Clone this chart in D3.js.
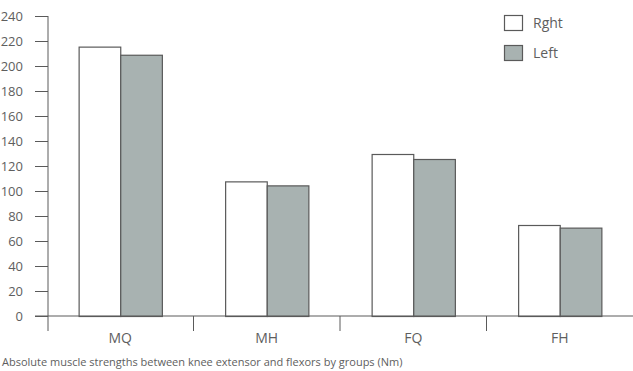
<!DOCTYPE html>
<html>
<head>
<meta charset="utf-8">
<script src="https://cdn.jsdelivr.net/npm/d3@7"></script>
<style>
  body { margin: 0; background: #fff; }
  svg text { font-family: "Open Sans", "Noto Sans", sans-serif; font-weight: 400; }
</style>
</head>
<body>
<div id="chart"></div>
<script>
////////////////////////////////////////////////////////////
//////////////////////// Data //////////////////////////////
////////////////////////////////////////////////////////////

var groups = ["MQ", "MH", "FQ", "FH"];
var seriesNames = ["Rght", "Left"];
var rightValues = [215.5, 107.7, 129.6, 72.8];
var leftValues = [209, 104.5, 125.6, 70.7];
var yTicks = [0, 20, 40, 60, 80, 100, 120, 140, 160, 180, 200, 220, 240];
var caption = "Absolute muscle strengths between knee extensor and flexors by groups (Nm)";

var fills = ["#ffffff", "#a8b2b1"];
var strokeCol = "#5a5a5a";
var textCol = "#5e5e5e";

var W = 633, H = 371;
var margin = {top: 16, right: 0, bottom: 55, left: 48};

var svg = d3.select("#chart").append("svg")
    .attr("width", W)
    .attr("height", H);

var x0 = d3.scaleBand()
    .domain(groups)
    .range([47, W])
    .paddingInner(0)
    .paddingOuter(0);

var x1 = d3.scaleBand()
    .domain(seriesNames)
    .range([0, x0.bandwidth()])
    .paddingOuter(0.76)
    .paddingInner(0);

var y = d3.scaleLinear()
    .domain([0, 240])
    .range([H - margin.bottom, margin.top]);

var rows = groups.map(function(g, i) {
    return {group: g, values: [rightValues[i], leftValues[i]]};
});

////////////////////////////////////////////////////////////
//////////////////////// Axes //////////////////////////////
////////////////////////////////////////////////////////////

var yAxis = svg.append("g")
    .attr("transform", "translate(" + margin.left + ",0)")
    .call(d3.axisLeft(y).tickValues(yTicks).tickSize(13).tickPadding(12));

yAxis.select(".domain").remove();
yAxis.selectAll("line").attr("stroke", strokeCol);
yAxis.selectAll("text")
    .style("font-size", "13px")
    .attr("fill", textCol);

//vertical axis line, running past zero like the group tick
svg.append("line")
    .attr("x1", margin.left).attr("x2", margin.left)
    .attr("y1", y(240)).attr("y2", y(0) + 15)
    .attr("stroke", strokeCol);

//group separators below the baseline
svg.selectAll(".sep")
    .data(groups.slice(1))
    .enter().append("line")
    .attr("class", "sep")
    .attr("x1", function(d) { return x0(d); })
    .attr("x2", function(d) { return x0(d); })
    .attr("y1", y(0))
    .attr("y2", y(0) + 15)
    .attr("stroke", strokeCol);

//group labels
svg.selectAll(".group-label")
    .data(groups)
    .enter().append("text")
    .attr("class", "group-label")
    .attr("x", function(d) { return x0(d) + x0.bandwidth() / 2; })
    .attr("y", y(0) + 22)
    .attr("dy", "0.35em")
    .attr("text-anchor", "middle")
    .attr("fill", textCol)
    .style("font-size", "14px")
    .text(function(d) { return d; });

////////////////////////////////////////////////////////////
//////////////////////// Bars //////////////////////////////
////////////////////////////////////////////////////////////

var groupG = svg.selectAll(".group")
    .data(rows)
    .enter().append("g")
    .attr("class", "group")
    .attr("transform", function(d) { return "translate(" + x0(d.group) + ",0)"; });

groupG.selectAll("rect")
    .data(function(d) { return d.values; })
    .enter().append("rect")
    .attr("x", function(d, i) { return x1(seriesNames[i]) + 0.5; })
    .attr("y", function(d) { return y(d) + 0.5; })
    .attr("width", x1.bandwidth())
    .attr("height", function(d) { return y(0) - y(d); })
    .attr("fill", function(d, i) { return fills[i]; })
    .attr("stroke", strokeCol)
    .attr("stroke-width", 1.2);

//baseline drawn on top of bars
svg.append("line")
    .attr("x1", margin.left - 13).attr("x2", W)
    .attr("y1", y(0)).attr("y2", y(0))
    .attr("stroke", strokeCol);

////////////////////////////////////////////////////////////
//////////////////////// Legend ////////////////////////////
////////////////////////////////////////////////////////////

var legend = svg.selectAll(".legend")
    .data(seriesNames)
    .enter().append("g")
    .attr("class", "legend")
    .attr("transform", function(d, i) { return "translate(504," + (15 + i * 30) + ")"; });

legend.append("rect")
    .attr("x", 0.5).attr("y", 0.5)
    .attr("width", 18).attr("height", 15)
    .attr("fill", function(d, i) { return fills[i]; })
    .attr("stroke", strokeCol)
    .attr("stroke-width", 1.2);

legend.append("text")
    .attr("x", 29)
    .attr("y", 8)
    .attr("dy", "0.35em")
    .attr("fill", textCol)
    .style("font-size", "14px")
    .text(function(d) { return d; });

//caption under the chart
svg.append("text")
    .attr("x", 2)
    .attr("y", 366)
    .attr("fill", textCol)
    .style("font-size", "11px")
    .text(caption);
</script>
</body>
</html>
